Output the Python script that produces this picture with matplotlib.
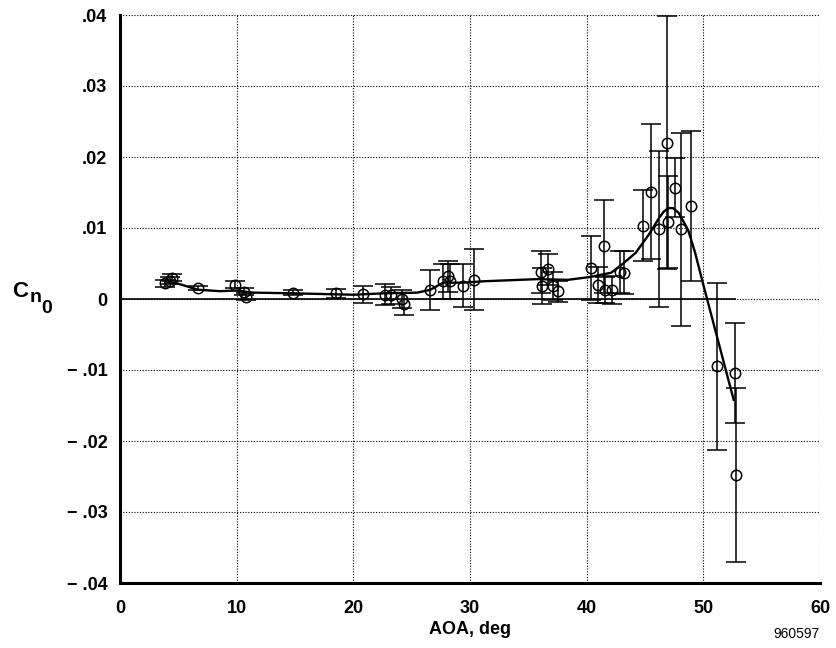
import numpy as np
import matplotlib.pyplot as plt

plt.rcParams['font.family'] = ['Liberation Sans', 'DejaVu Sans']
plt.rcParams['font.weight'] = 'bold'

# Measured points (angle of attack, deg) and yawing moment coefficient
aoa = np.array([3.9, 4.3, 4.5, 6.7, 9.9, 10.6, 10.8, 14.8, 18.5, 20.8,
                22.7, 23.2, 24.2, 24.3, 26.6, 27.7, 28.1, 28.3, 29.4, 30.3,
                36.1, 36.7, 36.2, 37.1, 37.5, 40.4, 41.5, 41.0, 41.6, 42.2,
                42.9, 43.2, 44.8, 45.5, 46.2, 46.9, 47.0, 47.6, 48.1, 48.9,
                51.2, 52.7, 52.8])
cn0 = np.array([0.0022, 0.0026, 0.0030, 0.0015, 0.0020, 0.0010, 0.0003, 0.0009, 0.0008, 0.0007,
                0.0006, 0.0005, 0.0000, -0.0007, 0.0013, 0.0025, 0.0032, 0.0025, 0.0019, 0.0027,
                0.0038, 0.0042, 0.0018, 0.0018, 0.0011, 0.0044, 0.0074, 0.0020, 0.0013, 0.0013,
                0.0038, 0.0037, 0.0103, 0.0151, 0.0099, 0.0220, 0.0108, 0.0157, 0.0098, 0.0131,
                -0.0095, -0.0104, -0.0248])
# error bar half-widths
cn0_err = np.array([0.0005, 0.0005, 0.0005, 0.0003, 0.0005, 0.0005, 0.0005, 0.0004, 0.0006, 0.0012,
                    0.0015, 0.0012, 0.0012, 0.0015, 0.0028, 0.0025, 0.0022, 0.0025, 0.0030, 0.0043,
                    0.0030, 0.0022, 0.0025, 0.0020, 0.0015, 0.0045, 0.0065, 0.0025, 0.0018, 0.0020,
                    0.0030, 0.0030, 0.0050, 0.0095, 0.0110, 0.0178, 0.0065, 0.0042, 0.0136, 0.0105,
                    0.0118, 0.0070, 0.0122])

# Faired curve
fit_aoa = [3.9, 4.9, 6.7, 8.6, 9.9, 11.4, 14.8, 20.0, 22.6, 25.5, 26.6, 27.7, 29.4,
           31.2, 35.8, 38.4, 40.3, 42.1, 43.2, 44.2, 45.3, 46.2, 46.6, 47.0, 47.4,
           47.9, 48.7, 49.3, 50.0, 52.6]
fit_cn0 = [0.0024, 0.0022, 0.0013, 0.0011, 0.0012, 0.0009, 0.0008, 0.0006, 0.0008, 0.0009,
           0.0013, 0.0023, 0.0023, 0.0025, 0.0028, 0.0027, 0.0031, 0.0037, 0.0051, 0.0065,
           0.0090, 0.0114, 0.0123, 0.0128, 0.0128, 0.0121, 0.0097, 0.0065, 0.0020, -0.0142]

xticks = [0, 10, 20, 30, 40, 50, 60]
yticks = [-0.04, -0.03, -0.02, -0.01, 0, 0.01, 0.02, 0.03, 0.04]
yticklabels = ['\u2212 .04', '\u2212 .03', '\u2212 .02', '\u2212 .01', '0',
               '.01', '.02', '.03', '.04']

fig = plt.figure(figsize=(8.37, 6.48), dpi=100)
ax = fig.add_axes((120 / 837, 1 - 583 / 648, 700 / 837, 568 / 648))

ax.set_xlim(0, 60)
ax.set_ylim(-0.04, 0.04)
ax.set_xticks(xticks)
ax.set_yticks(yticks)
ax.set_yticklabels(yticklabels)
ax.tick_params(length=0, labelsize=13)
ax.tick_params(axis='x', pad=12)
ax.tick_params(axis='y', pad=9)
ax.grid(True, linestyle=(0, (1, 1.5)), color='black', linewidth=0.8)
ax.set_axisbelow(True)

for side in ['top', 'right']:
    ax.spines[side].set_visible(False)
for side in ['left', 'bottom']:
    ax.spines[side].set_linewidth(2.2)

# zero reference line over the data range
ax.hlines(0, 0, aoa.max(), color='black', linewidth=1.2, zorder=2)

ax.plot(fit_aoa, fit_cn0, color='black', linewidth=1.7, zorder=3)
ax.errorbar(aoa, cn0, yerr=cn0_err, fmt='o', mfc='none', mec='black', ms=7.5,
            mew=1.1, ecolor='black', elinewidth=1.1, capsize=7.5, capthick=1.3, zorder=4)

ax.set_xlabel('AOA, deg', fontsize=13, fontweight='bold', labelpad=3)

# y label C with stacked subscripts n, 0
fig.text(12 / 837, 1 - 297 / 648, 'C', fontsize=16, va='baseline', ha='left')
fig.text(30 / 837, 1 - 302 / 648, 'n', fontsize=14, va='baseline', ha='left')
fig.text(41.5 / 837, 1 - 313 / 648, '0', fontsize=14, va='baseline', ha='left')

fig.text(820 / 837, 1 - 634 / 648, '960597', fontsize=10, fontweight='normal',
         ha='right', va='center')

fig.savefig('out.png', dpi=100)
